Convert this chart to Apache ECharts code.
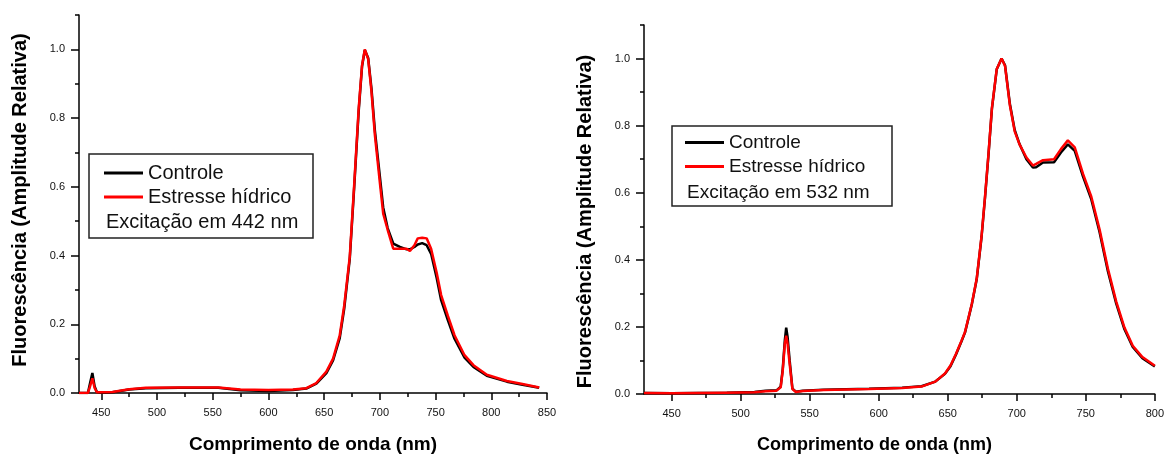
<!DOCTYPE html>
<html>
<head>
<meta charset="utf-8">
<script src="https://cdn.jsdelivr.net/npm/echarts@6/dist/echarts.min.js"></script>
<style>
html, body { margin: 0; padding: 0; background: #fff; }
#main { width: 1167px; height: 459px; }
</style>
</head>
<body>
<div id="main"></div>
<script>
var FONT = '"Liberation Sans", Arial, sans-serif';
var seriesNames = ['Controle', 'Estresse hídrico'];

// excitação em 442 nm
var nmA = [430, 438, 440, 442, 444, 446, 450, 460, 475, 490, 520, 555, 575, 600, 622, 634, 643, 652, 658, 664,
    668, 673, 677, 681, 684, 686.5, 689.5, 692.5, 695.5, 700, 703, 707, 712, 718, 724, 727, 731, 734, 738, 742,
    746, 751, 755, 761, 767, 776, 784, 796, 814, 828, 843];
var controleA = [0, 0, 0.03, 0.058, 0.02, 0.003, 0.001, 0.002, 0.01, 0.014, 0.015, 0.015, 0.008, 0.006, 0.009, 0.013, 0.027, 0.058, 0.095, 0.16,
    0.245, 0.39, 0.6, 0.82, 0.95, 0.998, 0.975, 0.885, 0.765, 0.63, 0.54, 0.48, 0.435, 0.425, 0.418, 0.418, 0.425, 0.432, 0.436, 0.43,
    0.405, 0.335, 0.27, 0.212, 0.158, 0.103, 0.076, 0.05, 0.033, 0.024, 0.015];
var estresseA = [0, 0, 0.02, 0.043, 0.015, 0.002, 0.002, 0.003, 0.011, 0.015, 0.016, 0.016, 0.01, 0.009, 0.01, 0.014, 0.029, 0.062, 0.1, 0.168,
    0.254, 0.397, 0.608, 0.828, 0.953, 1.0, 0.972, 0.876, 0.752, 0.612, 0.522, 0.475, 0.42, 0.42, 0.42, 0.413, 0.43, 0.45, 0.452, 0.45,
    0.42, 0.35, 0.285, 0.225, 0.168, 0.11, 0.081, 0.053, 0.035, 0.026, 0.016];

// excitação em 532 nm
var nmB = [430, 450, 470, 490, 510, 518, 526, 529, 530.5, 532, 533, 534, 535.5, 537.5, 540, 545, 560, 593, 617, 631,
    641, 648, 652, 656, 660, 662.5, 665, 667.5, 671, 674.5, 677, 679.5, 682, 685.5, 689, 691.5, 695, 698.5, 702, 707,
    711.7, 714, 719, 727, 732, 737, 742, 748, 754, 760, 766, 772, 778, 784, 791, 800];
var controleB = [0.003, 0.002, 0.003, 0.004, 0.006, 0.01, 0.011, 0.022, 0.075, 0.16, 0.198, 0.17, 0.1, 0.016, 0.007, 0.01, 0.013, 0.016, 0.019, 0.023,
    0.037, 0.06, 0.083, 0.118, 0.157, 0.183, 0.225, 0.268, 0.342, 0.468, 0.585, 0.712, 0.85, 0.968, 1.0, 0.98, 0.865, 0.787, 0.745, 0.7,
    0.675, 0.676, 0.69, 0.691, 0.72, 0.744, 0.725, 0.648, 0.58, 0.482, 0.366, 0.27, 0.193, 0.14, 0.107, 0.082];
var estresseB = [0.003, 0.002, 0.003, 0.004, 0.005, 0.008, 0.01, 0.02, 0.07, 0.15, 0.174, 0.15, 0.09, 0.015, 0.006, 0.009, 0.012, 0.015, 0.018, 0.022,
    0.037, 0.061, 0.085, 0.12, 0.159, 0.185, 0.227, 0.27, 0.344, 0.471, 0.588, 0.715, 0.852, 0.969, 1.0, 0.978, 0.861, 0.783, 0.744, 0.705,
    0.681, 0.686, 0.697, 0.7, 0.73, 0.756, 0.735, 0.656, 0.588, 0.49, 0.374, 0.276, 0.198, 0.144, 0.11, 0.084];

var xLabelsA = [450, 500, 550, 600, 650, 700, 750, 800, 850];
var xMinorA = [475, 525, 575, 625, 675, 725, 775, 825];
var xLabelsB = [450, 500, 550, 600, 650, 700, 750, 800];
var xMinorB = [475, 525, 575, 625, 675, 725, 775];
var yLabels = [0, 0.2, 0.4, 0.6, 0.8, 1.0];
var yMinor = [0.1, 0.3, 0.5, 0.7, 0.9, 1.1];

var xTitle = 'Comprimento de onda (nm)';
var yTitle = 'Fluorescência (Amplitude Relativa)';
var notes = ['Excitação em 442 nm', 'Excitação em 532 nm'];

function pairs(xs, ys) {
    var out = [];
    for (var i = 0; i < xs.length; i++) {
        out.push([xs[i], ys[i]]);
    }
    return out;
}

function mainX(grid, min, max, labels, size, pad) {
    return {
        type: 'value', gridIndex: grid, min: min, max: max, position: 'bottom',
        axisLine: { show: true, onZero: false, lineStyle: { color: '#000', width: 1.5 } },
        axisTick: { show: true, length: 7, customValues: labels, lineStyle: { color: '#000', width: 1.5 } },
        axisLabel: { customValues: labels, margin: 14, color: '#111', fontSize: 11, fontFamily: FONT },
        splitLine: { show: false },
        name: xTitle, nameLocation: 'middle', nameGap: 42,
        nameTextStyle: { fontSize: size, fontWeight: 'bold', color: '#000', fontFamily: FONT, padding: pad }
    };
}
function minorX(grid, min, max, ticks) {
    return {
        type: 'value', gridIndex: grid, min: min, max: max, position: 'bottom', offset: 0,
        axisLine: { show: false },
        axisTick: { show: true, length: 4, customValues: ticks, lineStyle: { color: '#000', width: 1.5 } },
        axisLabel: { show: false },
        splitLine: { show: false }
    };
}
function mainY(grid, pad) {
    return {
        type: 'value', gridIndex: grid, min: 0, max: 1.1, position: 'left',
        axisLine: { show: true, onZero: false, lineStyle: { color: '#000', width: 1.5 } },
        axisTick: { show: true, length: 8, customValues: yLabels, lineStyle: { color: '#000', width: 1.5 } },
        axisLabel: {
            customValues: yLabels, margin: 14, color: '#111', fontSize: 11, fontFamily: FONT,
            formatter: function (v) { return v.toFixed(1); }
        },
        splitLine: { show: false },
        name: yTitle, nameLocation: 'middle', nameGap: 49,
        nameTextStyle: { fontSize: 20, fontWeight: 'bold', color: '#000', fontFamily: FONT, padding: pad }
    };
}
function minorY(grid) {
    return {
        type: 'value', gridIndex: grid, min: 0, max: 1.1, position: 'left', offset: 0,
        axisLine: { show: false },
        axisTick: { show: true, length: 4, customValues: yMinor, lineStyle: { color: '#000', width: 1.5 } },
        axisLabel: { show: false },
        splitLine: { show: false }
    };
}
function curve(name, xi, yi, data, color) {
    return {
        name: name, type: 'line', xAxisIndex: xi, yAxisIndex: yi, data: data,
        showSymbol: false, symbol: 'none', animation: false,
        color: color,
        lineStyle: { color: color, width: 2.5 },
        itemStyle: { color: color }
    };
}

var chart = echarts.init(document.getElementById('main'), null, { renderer: 'canvas' });
var option = {
    animation: false,
    backgroundColor: '#fff',
    grid: [
        { left: 79, top: 15, width: 468, height: 383 },
        { left: 644, top: 25, width: 514, height: 376 }
    ],
    xAxis: [
        mainX(0, 430, 850, xLabelsA, 19, [0, 0, 0, 0]),
        minorX(0, 430, 850, xMinorA),
        mainX(1, 430, 800, xLabelsB, 18, [0, 50, 0, 0]),
        minorX(1, 430, 800, xMinorB)
    ],
    yAxis: [
        mainY(0, [0, 0, 0, 8]),
        minorY(0),
        mainY(1, [0, 24, 0, 0]),
        minorY(1)
    ],
    legend: [
        {
            orient: 'vertical', left: 104, top: 163, padding: 0, itemGap: 4,
            itemWidth: 39, itemHeight: 3, icon: 'rect', data: seriesNames,
            textStyle: { fontSize: 20, lineHeight: 20, color: '#111', fontFamily: FONT }
        },
        {
            orient: 'vertical', left: 685, top: 133, padding: 0, itemGap: 5,
            itemWidth: 39, itemHeight: 3, icon: 'rect', data: seriesNames,
            textStyle: { fontSize: 19, lineHeight: 19, color: '#111', fontFamily: FONT }
        }
    ],
    graphic: [
        { type: 'rect', shape: { x: 89, y: 154, width: 224, height: 84 }, style: { fill: null, stroke: '#222', lineWidth: 1.5 }, z: 10 },
        { type: 'text', x: 106, y: 222, style: { text: notes[0], fontSize: 20, fontFamily: FONT, fill: '#111', verticalAlign: 'middle' }, z: 10 },
        { type: 'rect', shape: { x: 672, y: 126, width: 220, height: 80 }, style: { fill: null, stroke: '#222', lineWidth: 1.5 }, z: 10 },
        { type: 'text', x: 687, y: 193, style: { text: notes[1], fontSize: 19, fontFamily: FONT, fill: '#111', verticalAlign: 'middle' }, z: 10 }
    ],
    series: [
        curve(seriesNames[0], 0, 0, pairs(nmA, controleA), '#000'),
        curve(seriesNames[1], 0, 0, pairs(nmA, estresseA), '#ff0000'),
        curve(seriesNames[0], 2, 2, pairs(nmB, controleB), '#000'),
        curve(seriesNames[1], 2, 2, pairs(nmB, estresseB), '#ff0000')
    ]
};
chart.setOption(option);
</script>
</body>
</html>
